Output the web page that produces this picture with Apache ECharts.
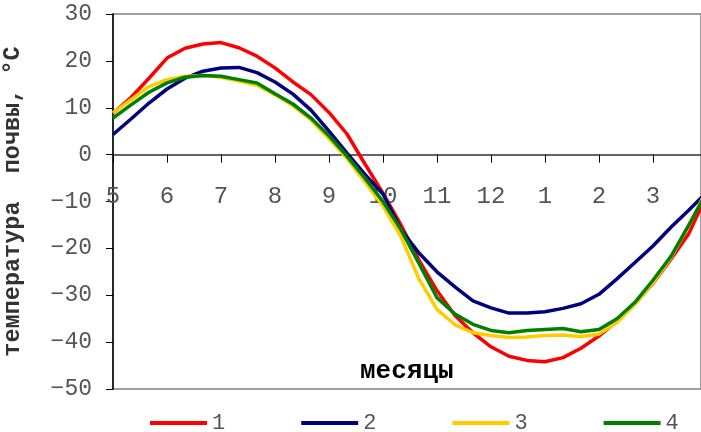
<!DOCTYPE html>
<html>
<head>
<meta charset="utf-8">
<script src="https://cdn.jsdelivr.net/npm/echarts@6/dist/echarts.min.js"></script>
<style>html,body{margin:0;padding:0;background:#fff}#c{width:701px;height:432px}</style>
</head>
<body>
<div id="c"></div>
<script>
// Months shown on the axis (one tick per month, 3 dekads per month)
var monthLabels = ['5','6','7','8','9','10','11','12','1','2','3'];
// Dekad index (10-day periods since start of May)
var dekads = [0,1,2,3,4,5,6,7,8,9,10,11,12,13,14,15,16,17,18,19,20,21,22,23,24,25,26,27,28,29,30,31,32,33];
var seriesNames = ['1','2','3','4'];
var s1 = [8.8,12.2,16.3,20.6,22.7,23.6,23.9,22.8,21.0,18.5,15.5,12.8,9.0,4.4,-2.0,-8.2,-15.0,-22.5,-29.0,-34.3,-38.0,-41.0,-43.0,-43.9,-44.2,-43.3,-41.3,-38.7,-35.5,-31.8,-27.5,-22.3,-16.8,-8.5];
var s2 = [4.3,7.6,11.0,14.0,16.3,17.8,18.5,18.6,17.5,15.5,12.9,9.5,5.0,0.3,-4.2,-8.4,-16.0,-21.0,-25.0,-28.2,-31.2,-32.7,-33.8,-33.8,-33.5,-32.8,-31.8,-29.8,-26.5,-23.0,-19.5,-15.5,-11.8,-8.0];
var s3 = [8.9,11.7,14.5,16.0,16.7,16.9,16.5,15.7,14.8,12.8,10.4,7.4,3.4,-0.8,-5.8,-11.0,-17.5,-26.5,-33.0,-36.3,-38.0,-38.6,-39.0,-38.9,-38.6,-38.5,-38.8,-38.3,-35.8,-32.0,-27.4,-22.0,-15.0,-7.5];
var s4 = [7.8,10.6,13.3,15.3,16.5,16.9,16.7,16.0,15.3,13.0,10.8,7.8,4.0,-0.3,-5.0,-10.0,-16.0,-23.2,-30.5,-34.0,-36.2,-37.5,-38.0,-37.5,-37.3,-37.1,-37.8,-37.3,-35.0,-31.5,-26.8,-21.7,-15.0,-8.0];
var colors = ['#FF0000','#000080','#FFCC00','#008000'];

function pairs(vals){ return dekads.map(function(d,i){ return [d, vals[i]]; }); }
var allVals = [s1,s2,s3,s4];
var FONT = 'Liberation Mono';
var Y_MIN = -50, Y_MAX = 30;
var GRID_TOP = 14, GRID_BOTTOM = 43, H = 432;
// x axis drawn through y = 0 (shift from the bottom edge of the plot)
var plotH = H - GRID_TOP - GRID_BOTTOM;
var zeroOffset = -plotH * (0 - Y_MIN) / (Y_MAX - Y_MIN);

var chart = echarts.init(document.getElementById('c'), null, {renderer:'canvas'});
chart.setOption({
  animation:false,
  backgroundColor:'#fff',
  title:{
    text:'месяцы', left:360, top:358, padding:0,
    textStyle:{fontFamily:FONT, fontWeight:'bold', fontSize:26, color:'#000'}
  },
  legend:{
    data:seriesNames, left:145, top:407, icon:'rect', itemWidth:57, itemHeight:4, itemGap:76,
    textStyle:{fontFamily:FONT, fontSize:22, color:'#555'}
  },
  grid:{left:113, right:0, top:GRID_TOP, bottom:GRID_BOTTOM, outerBoundsMode:'none', containLabel:false,
    show:true, borderColor:'#808080', borderWidth:1.5, backgroundColor:'transparent'},
  xAxis:{
    type:'value', min:0, max:32.67, interval:3, position:'bottom', offset:zeroOffset,
    axisLine:{onZero:false, lineStyle:{color:'#333', width:1.5}},
    axisTick:{show:true, inside:false, length:8, lineStyle:{color:'#000', width:1}},
    splitLine:{show:false},
    axisLabel:{margin:30, fontFamily:FONT, fontSize:24, color:'#555',
      formatter:function(v){ var m = v/3; return (Math.abs(m-Math.round(m))<1e-6 && monthLabels[Math.round(m)]!==undefined) ? monthLabels[Math.round(m)] : ''; }}
  },
  yAxis:{
    type:'value', min:Y_MIN, max:Y_MAX, interval:10,
    name:'температура  почвы, °С', nameLocation:'middle', nameGap:88, nameRotate:90,
    nameTextStyle:{fontFamily:FONT, fontWeight:'bold', fontSize:23.5, color:'#333'},
    axisLine:{show:true, onZero:false, lineStyle:{color:'#000', width:1.5}},
    axisTick:{show:true, length:7, lineStyle:{color:'#000', width:1}},
    splitLine:{show:false},
    axisLabel:{margin:21, fontFamily:FONT, fontSize:23, color:'#555',
      formatter:function(v){ return String(v).replace('-','\u2212'); }}
  },
  series: seriesNames.map(function(n,i){
    return {name:n, type:'line', data:pairs(allVals[i]), showSymbol:false, symbol:'none',
      lineStyle:{color:colors[i], width:3.5}, itemStyle:{color:colors[i]}, clip:true, z:2+i};
  })
});
</script>
</body>
</html>
